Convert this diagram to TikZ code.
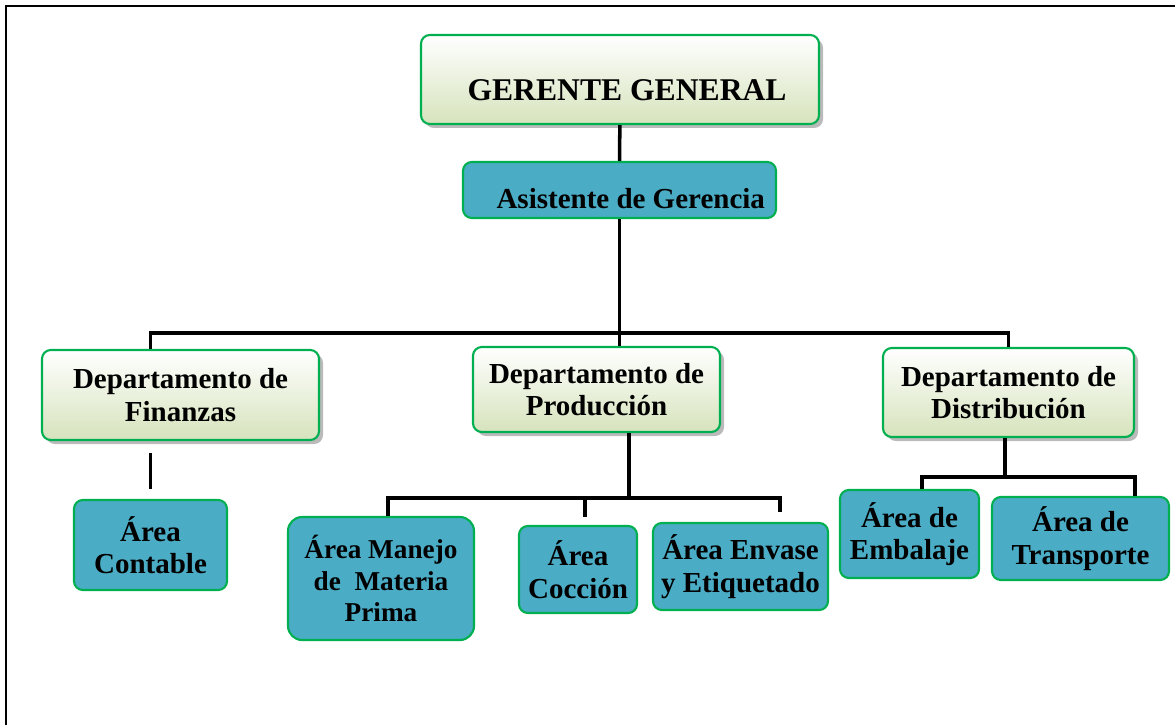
\documentclass[tikz,border=0pt]{standalone}
\usepackage{fontspec}
\setmainfont{Liberation Serif}
\usepackage{tikz}
\usetikzlibrary{positioning, calc, shadows}
\definecolor{OrgGreen}{RGB}{0,176,80}
\definecolor{OrgLight}{RGB}{214,227,188}
\definecolor{OrgTeal}{RGB}{75,172,198}
\tikzset{
    headbox/.style={rectangle, rounded corners=5pt, draw=OrgGreen, line width=1.2pt,
        top color=white, bottom color=OrgLight, align=center, inner sep=2pt,
        drop shadow={shadow xshift=0.08cm, shadow yshift=-0.08cm, opacity=0.45, fill=black!60},
        font=\fontsize{16.5}{18.5}\selectfont\bfseries},
    areabox/.style={rectangle, rounded corners=5pt, draw=OrgGreen, line width=1.2pt,
        fill=OrgTeal, align=center, inner sep=2pt,
        font=\fontsize{16.5}{18.5}\selectfont\bfseries},
    orgline/.style={line width=2pt, black},
}

\begin{document}
\begin{tikzpicture}
    \useasboundingbox (0,0) rectangle (23.5,-14.5);
    % marco
    \draw[line width=1.1pt] (0.12,-14.5) |- (23.5,-0.12);

    \node[headbox, minimum width=7.96cm, minimum height=1.78cm,
        font=\fontsize{18}{20}\selectfont\bfseries] (gerente) at (12.4,-1.59)
        {\hspace*{8pt}\raisebox{-6pt}[\height][0pt]{GERENTE GENERAL}};
    \node[areabox, minimum width=6.26cm, minimum height=1.12cm] (asistente) at (12.39,-3.8)
        {\hspace*{0.45cm}\raisebox{-5pt}[\height][0pt]{Asistente de Gerencia}};

    \node[headbox, minimum width=5.54cm, minimum height=1.8cm] (finanzas) at (3.61,-7.9) {Departamento de\\Finanzas};
    \node[headbox, minimum width=4.94cm, minimum height=1.7cm] (produccion) at (11.93,-7.79) {Departamento de\\Producción};
    \node[headbox, minimum width=5.02cm, minimum height=1.78cm] (distribucion) at (20.17,-7.85) {Departamento de\\Distribución};

    \node[areabox, minimum width=3.06cm, minimum height=1.8cm] (contable) at (3.01,-10.9) {Área\\Contable};
    \node[areabox, minimum width=3.72cm, minimum height=2.46cm, rounded corners=8pt,
        font=\fontsize{15.5}{18}\selectfont\bfseries] (manejo) at (7.62,-11.57) {Área Manejo\\de\ \ Materia\\Prima};
    \node[areabox, minimum width=2.36cm, minimum height=1.74cm] (coccion) at (11.56,-11.39) {Área\\Cocción};
    \node[areabox, minimum width=3.5cm, minimum height=1.74cm] (envase) at (14.81,-11.33) {Área Envase\\y Etiquetado};
    \node[areabox, minimum width=2.78cm, minimum height=1.76cm] (embalaje) at (18.19,-10.68) {Área de\\Embalaje};
    \node[areabox, minimum width=3.54cm, minimum height=1.66cm] (transporte) at (21.61,-10.77) {Área de\\Transporte};

    \coordinate (bus1) at (12.42,-6.66);
    \coordinate (bus2) at (12.58,-9.96);
    \coordinate (bus3) at (20.1,-9.54);

    % gerencia
    \draw[orgline] (gerente) -- (asistente);
    \draw[orgline] (asistente) -- (asistente |- produccion.north);
    \draw[orgline] (contable |- finanzas.north) |- (bus1) -| (distribucion.north);

    % finanzas
    \draw[orgline, shorten <=0.24cm, shorten >=0.2cm] (contable |- finanzas.south) -- (contable.north);

    % produccion
    \draw[orgline] (produccion.south -| bus2) -- (bus2);
    \draw[orgline, shorten >=0.2cm] ([xshift=0.14cm]manejo.north) |- (bus2) -| ([xshift=0.79cm]envase.north);
    \draw[orgline, shorten >=0.16cm] ([xshift=0.14cm]coccion.north |- bus2) -- ([xshift=0.14cm]coccion.north);

    % distribucion
    \draw[orgline] (distribucion.south -| bus3) -- (bus3);
    \draw[orgline] ([xshift=0.25cm]embalaje.north) |- (bus3) -| ([xshift=1.09cm]transporte.north);
\end{tikzpicture}
\end{document}
